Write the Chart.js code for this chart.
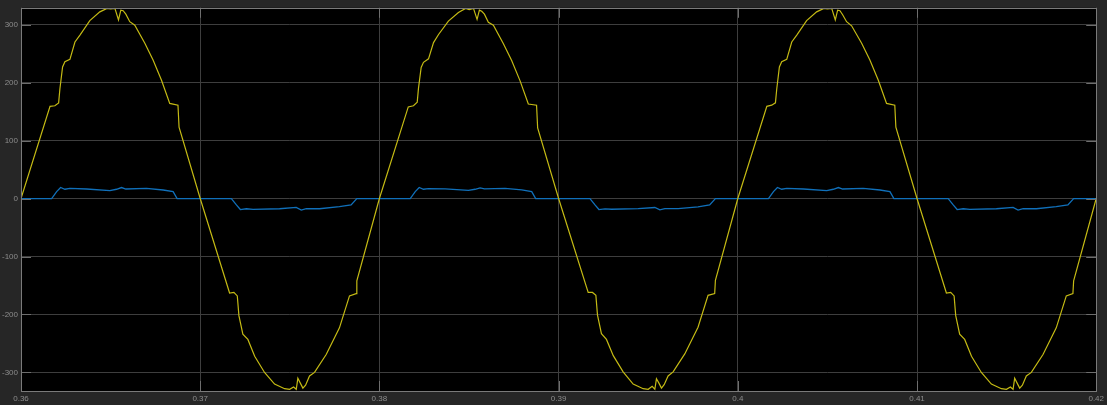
<!DOCTYPE html>
<html>
<head>
<meta charset="utf-8">
<script src="https://cdn.jsdelivr.net/npm/chart.js@4.4.1/dist/chart.umd.min.js"></script>
<style>
  html, body { margin: 0; padding: 0; background: #262626; }
  #wrap { width: 1107px; height: 405px; }
</style>
</head>
<body>
<div id="wrap"><canvas id="scope" width="1107" height="405"></canvas></div>
<script>
// Tiempo (s) y tension de la curva amarilla
const yellowT = [
  0.36000,0.36162,0.36189,0.36210,0.36217,0.36232,0.36245,0.36273,0.36301,0.36329,0.36384,0.36440,0.36480,0.36500,0.36524,0.36544,0.36557,0.36570,0.36585,0.36607,0.36635,0.36691,0.36737,0.36784,0.36830,0.36876,0.36882,
  0.37000,0.37164,0.37188,0.37207,0.37216,0.37238,0.37266,0.37304,0.37359,0.37415,0.37471,0.37499,0.37521,0.37536,0.37545,0.37558,0.37573,0.37588,0.37610,0.37638,0.37703,0.37777,0.37833,0.37870,0.37874,
  0.38000,0.38161,0.38190,0.38211,0.38218,0.38233,0.38246,0.38274,0.38302,0.38330,0.38385,0.38441,0.38481,0.38501,0.38525,0.38545,0.38558,0.38571,0.38586,0.38608,0.38636,0.38692,0.38738,0.38785,0.38831,0.38877,0.38883,
  0.39000,0.39165,0.39189,0.39208,0.39217,0.39239,0.39267,0.39305,0.39360,0.39416,0.39472,0.39500,0.39522,0.39537,0.39546,0.39559,0.39574,0.39589,0.39611,0.39639,0.39704,0.39778,0.39834,0.39871,0.39875,
  0.40000,0.40162,0.40189,0.40210,0.40217,0.40232,0.40245,0.40273,0.40301,0.40329,0.40384,0.40440,0.40480,0.40500,0.40524,0.40544,0.40557,0.40570,0.40585,0.40607,0.40635,0.40691,0.40737,0.40784,0.40830,0.40876,0.40882,
  0.41000,0.41164,0.41188,0.41207,0.41216,0.41238,0.41266,0.41304,0.41359,0.41415,0.41471,0.41499,0.41521,0.41536,0.41545,0.41558,0.41573,0.41588,0.41610,0.41638,0.41703,0.41777,0.41833,0.41870,0.41874,0.42000
];
const yellowV = [
  0,159,160,165,189,227,236,240,270,282,307,322,328,327,328,308,325,324,318,305,299,268,239,204,164,161,123,
  0,-163,-162,-168,-202,-234,-243,-272,-300,-320,-328,-329,-325,-329,-310,-318,-327,-322,-306,-300,-269,-223,-168,-164,-142,
  0,158,160,166,190,226,235,241,269,283,306,321,328,326,328,309,325,323,318,304,299,267,238,203,163,161,122,
  0,-162,-162,-167,-201,-233,-243,-271,-299,-320,-328,-329,-324,-329,-311,-318,-327,-321,-306,-299,-268,-222,-167,-164,-141,
  0,159,161,165,188,227,236,240,270,282,307,322,328,327,328,308,325,324,317,305,298,268,239,204,164,161,123,
  0,-163,-162,-168,-202,-234,-243,-272,-300,-320,-328,-329,-325,-329,-310,-318,-327,-322,-306,-300,-269,-223,-168,-164,-142,0
];

// Tiempo (s) y valor de la curva azul
const blueT = [
  0.36000,0.36171,0.36199,0.36221,0.36245,0.36273,0.36366,0.36496,0.36533,0.36561,0.36585,0.36700,0.36793,0.36849,0.36871,
  0.37174,0.37202,0.37224,0.37258,0.37295,0.37443,0.37536,0.37564,0.37592,0.37666,0.37777,0.37842,0.37874,
  0.38172,0.38200,0.38222,0.38246,0.38274,0.38367,0.38497,0.38534,0.38562,0.38586,0.38701,0.38794,0.38850,0.38872,
  0.39175,0.39203,0.39225,0.39259,0.39296,0.39444,0.39537,0.39565,0.39593,0.39667,0.39778,0.39843,0.39875,
  0.40171,0.40199,0.40221,0.40245,0.40273,0.40366,0.40496,0.40533,0.40561,0.40585,0.40700,0.40793,0.40849,0.40871,
  0.41174,0.41202,0.41224,0.41258,0.41295,0.41443,0.41536,0.41564,0.41592,0.41666,0.41777,0.41842,0.41874,0.42000
];
const blueV = [
  0,0,12,19,16,17.6,16.4,13.5,16,19,16.4,17.6,14.7,11.8,0,
  0,-11,-19,-17.6,-18.7,-17.6,-15.2,-20,-17.6,-17.6,-14,-11,0,
  0,12,19,16,17,16.5,14,16,18.5,16.5,17.5,15,12,0,
  0,-11,-19,-18,-18.5,-17.5,-15.5,-19.5,-17.5,-17.5,-14.5,-11,0,
  0,12,19,16,17.6,16.4,13.5,16,19,16.4,17.6,14.7,11.8,0,
  0,-11,-19,-17.6,-18.7,-17.6,-15.2,-20,-17.6,-17.6,-14,-11,0,0
];

// Etiquetas de los ejes
const xTicks = [0.36, 0.37, 0.38, 0.39, 0.40, 0.41, 0.42];
const yTicks = [-300, -200, -100, 0, 100, 200, 300];

function pares(t, v) {
  const n = Math.min(t.length, v.length);
  const out = [];
  for (let i = 0; i < n; i++) out.push({ x: t[i], y: v[i] });
  return out;
}

// Fondo negro del area de trazado + marcas internas estilo osciloscopio
const scopePlugin = {
  id: 'scope',
  beforeDraw(chart) {
    const { ctx, chartArea: a } = chart;
    ctx.save();
    ctx.fillStyle = '#262626';
    ctx.fillRect(0, 0, chart.width, chart.height);
    ctx.fillStyle = '#000000';
    ctx.fillRect(a.left, a.top, a.right - a.left, a.bottom - a.top);
    ctx.restore();
  },
  afterDatasetsDraw(chart) {
    const { ctx, chartArea: a, scales } = chart;
    ctx.save();
    ctx.strokeStyle = '#6e6e6e';
    ctx.lineWidth = 1;
    ctx.beginPath();
    yTicks.forEach(v => {
      const y = Math.round(scales.y.getPixelForValue(v)) + 0.5;
      ctx.moveTo(a.left, y); ctx.lineTo(a.left + 10, y);
      ctx.moveTo(a.right - 10, y); ctx.lineTo(a.right, y);
    });
    xTicks.forEach(v => {
      const x = Math.round(scales.x.getPixelForValue(v)) + 0.5;
      ctx.moveTo(x, a.bottom); ctx.lineTo(x, a.bottom - 10);
      ctx.moveTo(x, a.top); ctx.lineTo(x, a.top + 10);
    });
    ctx.stroke();
    // marco
    ctx.strokeStyle = '#7a7a7a';
    ctx.strokeRect(Math.round(a.left) + 0.5, Math.round(a.top) + 0.5,
                   Math.round(a.right - a.left), Math.round(a.bottom - a.top));
    ctx.restore();
  }
};

const config = {
  type: 'line',
  data: {
    datasets: [
      {
        data: pares(yellowT, yellowV),
        borderColor: 'rgb(196, 186, 20)',
        borderWidth: 1.2,
        pointRadius: 0,
        tension: 0
      },
      {
        data: pares(blueT, blueV),
        borderColor: 'rgb(16, 112, 186)',
        borderWidth: 1.3,
        pointRadius: 0,
        tension: 0
      }
    ]
  },
  options: {
    responsive: false,
    animation: false,
    devicePixelRatio: 1,
    layout: { padding: { top: 7, right: 9, left: 0, bottom: 0 } },
    plugins: { legend: { display: false }, tooltip: { enabled: false } },
    scales: {
      x: {
        type: 'linear',
        min: 0.36,
        max: 0.42,
        afterBuildTicks: s => { s.ticks = xTicks.map(v => ({ value: v })); },
        afterFit: s => { s.height = 14; },
        grid: { color: 'rgb(62,62,62)', lineWidth: 1, drawTicks: false },
        border: { display: false },
        ticks: {
          color: '#8c8c8c',
          font: { family: 'Liberation Sans', size: 8 },
          padding: 3,
          maxRotation: 0,
          autoSkip: false,
          callback: v => String(+v.toFixed(2))
        }
      },
      y: {
        min: -332,
        max: 329,
        afterBuildTicks: s => { s.ticks = yTicks.map(v => ({ value: v })); },
        afterFit: s => { s.width = 21; },
        grid: { color: 'rgb(62,62,62)', lineWidth: 1, drawTicks: false },
        border: { display: false },
        ticks: {
          color: '#8c8c8c',
          font: { family: 'Liberation Sans', size: 8 },
          padding: 3,
          autoSkip: false,
          callback: v => String(v)
        }
      }
    }
  },
  plugins: [scopePlugin]
};

const ctxScope = document.getElementById('scope').getContext('2d');
new Chart(ctxScope, config);
</script>
</body>
</html>
